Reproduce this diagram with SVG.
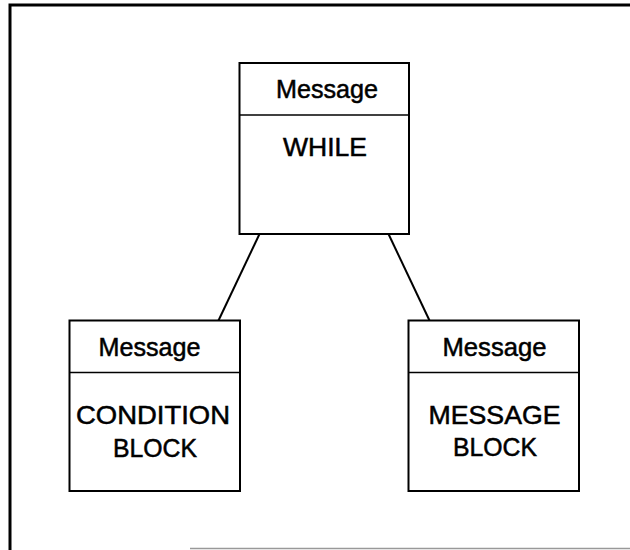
<svg xmlns="http://www.w3.org/2000/svg" width="630" height="550" viewBox="0 0 630 550">
  <style>
    .box { fill: #fff; stroke: #000; stroke-width: 2; }
    .div { stroke: #000; stroke-width: 1.6; }
    .edge { stroke: #000; stroke-width: 2; fill: none; }
    .t { font-family: "Liberation Sans", Arial, sans-serif; font-size: 25px; fill: #000; stroke: #000; stroke-width: 0.5; text-anchor: middle; }
  </style>
  <rect width="630" height="550" fill="#fff"/>

  <!-- frame -->
  <path d="M10,550 V5 H632" fill="none" stroke="#000" stroke-width="3"/>
  <line x1="190" y1="548.5" x2="632" y2="548.5" stroke="#999" stroke-width="1.5"/>

  <!-- connectors -->
  <g id="connectors">
    <line class="edge" x1="259.5" y1="234" x2="218.5" y2="320.5"/>
    <line class="edge" x1="388.5" y1="234" x2="429.5" y2="320.5"/>
  </g>

  <g id="while">
    <rect class="box" x="239.5" y="63" width="169.5" height="171"/>
    <line class="div" x1="239.5" y1="115" x2="409" y2="115"/>
    <text class="t" x="327" y="98" textLength="102" lengthAdjust="spacingAndGlyphs">Message</text>
    <text class="t" x="325" y="156" textLength="84" lengthAdjust="spacingAndGlyphs">WHILE</text>
  </g>

  <g id="condition-block">
    <rect class="box" x="69.5" y="320.5" width="170.5" height="170.5"/>
    <line class="div" x1="69.5" y1="372.5" x2="240" y2="372.5"/>
    <text class="t" x="149.5" y="356" textLength="102" lengthAdjust="spacingAndGlyphs">Message</text>
    <text class="t" x="153" y="424" textLength="154" lengthAdjust="spacingAndGlyphs">CONDITION</text>
    <text class="t" x="155" y="456.5" textLength="84" lengthAdjust="spacingAndGlyphs">BLOCK</text>
  </g>

  <g id="message-block">
    <rect class="box" x="408.5" y="320.5" width="170.5" height="170.5"/>
    <line class="div" x1="408.5" y1="372.5" x2="579" y2="372.5"/>
    <text class="t" x="494.5" y="356" textLength="104" lengthAdjust="spacingAndGlyphs">Message</text>
    <text class="t" x="494.5" y="423.5" textLength="132" lengthAdjust="spacingAndGlyphs">MESSAGE</text>
    <text class="t" x="495" y="456" textLength="84" lengthAdjust="spacingAndGlyphs">BLOCK</text>
  </g>
</svg>
